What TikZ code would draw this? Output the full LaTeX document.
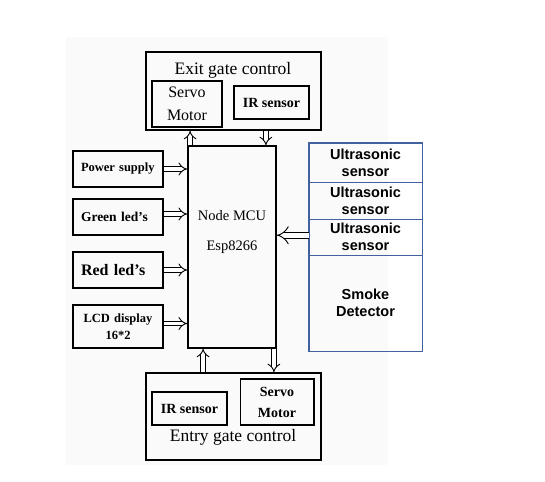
\documentclass[tikz,border=0pt]{standalone}
\usepackage{fontspec}
\setmainfont{Liberation Serif}
\newfontfamily\arialfont{Liberation Sans}
\usetikzlibrary{arrows.meta}
\definecolor{sensorblue}{HTML}{41619F}
\tikzset{
  block/.style={draw, line width=1.5pt, inner sep=0pt},
  leftbox/.style={block, minimum width=90pt, minimum height=36pt, text width=74pt, inner xsep=8pt, align=left, font=\bfseries\fontsize{12.5}{14}\selectfont},
  sensorbox/.style={draw=sensorblue, line width=0.6pt, minimum width=113pt, inner sep=0pt, align=center, font=\arialfont\bfseries\fontsize{14.5}{17}\selectfont},
  dblarrow/.style={double, double distance=3.6pt, line width=0.9pt, -{Implies}},
  bigarrow/.style={dblarrow, double distance=5.5pt}
}
\begin{document}
\begin{tikzpicture}[x=1pt,y=-1pt]
\useasboundingbox (0,0) rectangle (545,481);
\fill[black!2] (66,37) rectangle (388,465);
% exit gate
\node[block, minimum width=175pt, minimum height=78pt] (exitbox) at (233.5,91) {};
\node[font=\fontsize{17.5}{20}\selectfont] (exittitle) at (233,70) {Exit gate control};
\node[block, minimum width=70pt, minimum height=46pt, align=center, font=\fontsize{16}{23}\selectfont] (exitservo) at (187,104) {Servo\\Motor};
\node[block, minimum width=75pt, minimum height=33pt, font=\bfseries\fontsize{14}{16}\selectfont] (exitir) at (271.5,102.5) {IR sensor};
% controller
\node[draw, line width=1.8pt, minimum width=88pt, minimum height=201.5pt] (mcu) at (232,247) {};
\node[align=center, font=\fontsize{14.5}{29.5}\selectfont] (mcutext) at (232,232) {Node MCU\\Esp8266};
% left blocks
\node[leftbox] (power) at (118,169) {Power supply};
\node[leftbox, font=\bfseries\fontsize{13.5}{15}\selectfont] (green) at (118,217) {Green led’s};
\node[leftbox, font=\bfseries\fontsize{16}{17}\selectfont] (red) at (118,270) {Red led’s};
\node[leftbox, minimum height=43pt, align=center, font=\bfseries\fontsize{12.5}{17.5}\selectfont] (lcd) at (118,326.5) {LCD display\\16*2};
% sensors
\node[sensorbox, minimum height=39.5pt] (us1) at (365.5,162.75) {Ultrasonic\\sensor};
\node[sensorbox, minimum height=37pt] (us2) at (365.5,201) {Ultrasonic\\sensor};
\node[sensorbox, minimum height=35.5pt] (us3) at (365.5,237.25) {Ultrasonic\\sensor};
\node[sensorbox, minimum height=96pt] (smoke) at (365.5,303) {Smoke\\Detector};
\draw[sensorblue, line width=1.6pt] (us1.north west) rectangle (smoke.south east);
% entry gate
\node[block, minimum width=175pt, minimum height=87pt] (entrybox) at (233.5,416.5) {};
\node[font=\fontsize{17.5}{20}\selectfont] (entrytitle) at (233,437) {Entry gate control};
\node[block, minimum width=75pt, minimum height=33pt, font=\bfseries\fontsize{14}{16}\selectfont] (entryir) at (189.5,408.5) {IR sensor};
\node[block, minimum width=73.5pt, minimum height=46pt, align=center, font=\bfseries\fontsize{14}{21}\selectfont] (entryservo) at (277,402) {Servo\\Motor};
% connections
\draw[dblarrow] (power.east) -- (power.east -| mcu.west);
\draw[dblarrow] ([yshift=3pt]green.east) -- ([yshift=3pt]green.east -| mcu.west);
\draw[dblarrow] (red.east) -- (red.east -| mcu.west);
\draw[dblarrow] ([yshift=3pt]lcd.east) -- ([yshift=3pt]lcd.east -| mcu.west);
\draw[bigarrow] ([yshift=2pt]us3.west) -- ([yshift=2pt]us3.west -| mcu.east);
\draw[dblarrow] ([xshift=3pt]mcu.north west) -- ([xshift=3pt]mcu.north west |- exitbox.south);
\draw[dblarrow] ([xshift=-11pt]mcu.north east |- exitbox.south) -- ([xshift=-11pt]mcu.north east);
\draw[dblarrow] ([xshift=16pt]mcu.south west |- entrybox.north) -- ([xshift=16pt]mcu.south west);
\draw[dblarrow] ([xshift=-3pt]mcu.south east) -- ([xshift=-3pt]mcu.south east |- entrybox.north);
\end{tikzpicture}
\end{document}
